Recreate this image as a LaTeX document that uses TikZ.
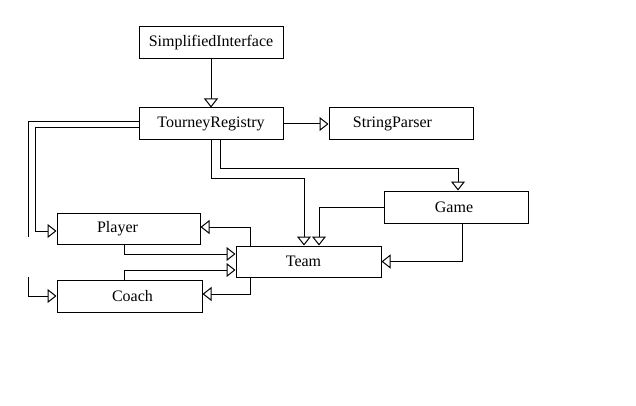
\documentclass[tikz,border=0pt]{standalone}
\usepackage{fontspec}
\setmainfont{Liberation Serif}
\usetikzlibrary{arrows.meta}
\begin{document}
\begin{tikzpicture}[x=1pt,y=-1pt,
  cls/.style={draw,line width=1pt,minimum width=144pt,minimum height=32pt,inner sep=0pt,font=\fontsize{16}{19}\selectfont},
  conn/.style={line width=1pt},
  arr/.style={conn,-{Triangle[length=9pt,width=14pt,fill=white,line width=1pt]}}]
\useasboundingbox[fill=white] (0,0) rectangle (636,406);
\node[cls] (SI) at (211,43) {SimplifiedInterface};
\node[cls] (TR) at (211,124) {TourneyRegistry};
\node[cls] (SP) at (401,124) {StringParser\hspace{17pt}\mbox{}};
\node[cls,minimum width=143pt,minimum height=31pt] (PL) at (128.5,228.5) {Player\hspace{22pt}\mbox{}};
\node[cls,minimum width=145pt] (CO) at (129.5,296) {\mbox{}\hspace{6pt}Coach};
\node[cls,minimum width=145pt,minimum height=31pt] (TE) at (308.5,261.5) {Team\hspace{10pt}\mbox{}};
\node[cls] (GA) at (456,207) {Game\hspace{4pt}\mbox{}};
\coordinate (e1) at (28,237);
\coordinate (e2) at (28,277);
\draw[arr] (SI.south) -- (TR.north);
\draw[arr] (TR.east) -- (SP.west);
\draw[conn] ([yshift=2pt]TR.west) -| (e1);
\draw[arr] ([yshift=-4pt]TR.west) -| ([xshift=-21pt,yshift=-2.5pt]PL.west) -- ([yshift=-2.5pt]PL.west);
\draw[arr] (e2) |- (CO.west);
\draw[arr] (TR.south) -- ++(0,38) -| ([xshift=-4.5pt]TE.north);
\draw[arr] ([xshift=9pt]TR.south) -- ++(0,28) -| ([xshift=2pt]GA.north);
\draw[arr] (GA.west) -| ([xshift=10.5pt]TE.north);
\draw[arr] ([xshift=6pt]GA.south) |- (TE.east);
\draw[arr] ([xshift=-58.5pt]TE.north) |- ([yshift=1.5pt]PL.east);
\draw[arr] ([xshift=-4.5pt]PL.south) |- ([yshift=7.5pt]TE.west);
\draw[arr] ([xshift=-5.5pt]CO.north) |- ([yshift=-8.5pt]TE.west);
\draw[arr] ([xshift=-58.5pt]TE.south) |- ([yshift=2pt]CO.east);
\end{tikzpicture}
\end{document}
